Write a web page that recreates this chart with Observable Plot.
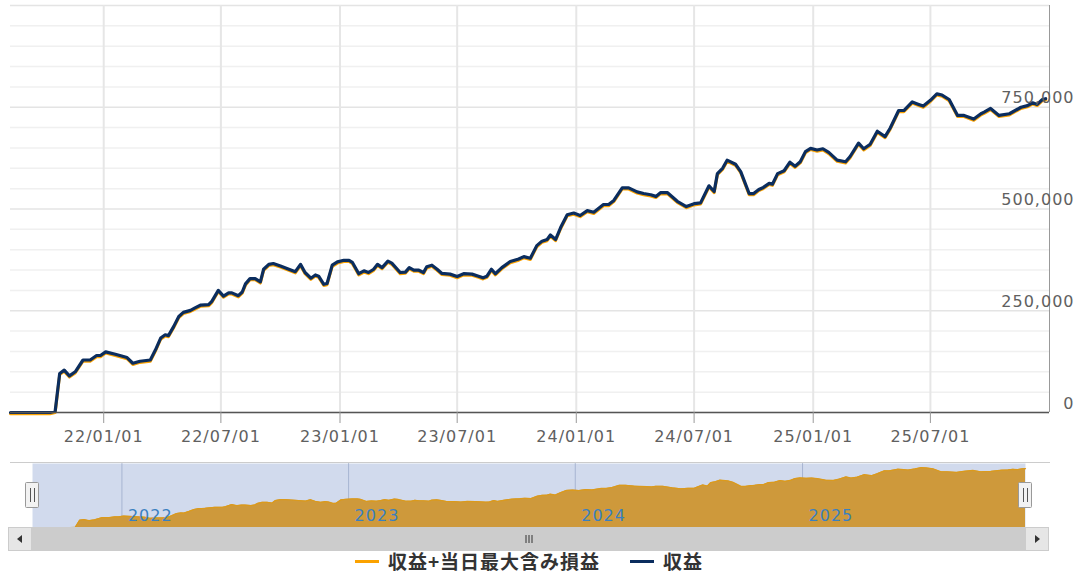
<!DOCTYPE html>
<html><head><meta charset="utf-8">
<script src="https://cdn.jsdelivr.net/npm/d3@7"></script>
<script src="https://cdn.jsdelivr.net/npm/@observablehq/plot@0.6"></script>
<style>
html,body{margin:0;padding:0;background:#fff;}
#chart svg{display:block;}
.legend{display:flex;justify-content:center;align-items:center;height:20px;width:1058px;
  font-family:"Noto Sans CJK JP";font-weight:bold;font-size:19px;letter-spacing:1px;color:#333;line-height:20px;}
.legend .item{display:flex;align-items:center;margin:0 15px;}
.legend .sym{display:inline-block;width:24px;height:3px;margin-right:9px;}
</style></head>
<body>
<div id="chart"></div>
<script>
// ---- data ----
const dates = [
"2021-08-10","2021-10-10","2021-10-18","2021-10-25","2021-11-01","2021-11-09","2021-11-18","2021-11-30","2021-12-11","2021-12-21","2021-12-27",
"2022-01-04","2022-01-19","2022-02-06","2022-02-15","2022-02-26","2022-03-14","2022-03-22","2022-03-30","2022-04-06","2022-04-11","2022-04-19","2022-04-27","2022-05-04","2022-05-15","2022-05-22","2022-05-31","2022-06-12","2022-06-17","2022-06-27","2022-07-05","2022-07-13","2022-07-18","2022-07-28","2022-08-03","2022-08-08","2022-08-15","2022-08-23","2022-08-31","2022-09-05","2022-09-13","2022-09-20","2022-10-01","2022-10-24","2022-11-01","2022-11-08","2022-11-17","2022-11-24","2022-11-29","2022-12-07","2022-12-12","2022-12-20","2022-12-28",
"2023-01-07","2023-01-15","2023-01-20","2023-01-30","2023-02-07","2023-02-14","2023-02-22","2023-02-28","2023-03-07","2023-03-16","2023-03-22","2023-04-04","2023-04-12","2023-04-18","2023-04-25","2023-05-02","2023-05-10","2023-05-15","2023-05-23","2023-05-31","2023-06-07","2023-06-20","2023-07-01","2023-07-11","2023-07-24","2023-08-03","2023-08-10","2023-08-16","2023-08-23","2023-08-29","2023-09-08","2023-09-21","2023-10-04","2023-10-12","2023-10-22","2023-11-01","2023-11-09","2023-11-17","2023-11-22","2023-11-30","2023-12-08","2023-12-18","2023-12-28",
"2024-01-07","2024-01-18","2024-01-28","2024-02-12","2024-02-20","2024-02-28","2024-03-12","2024-03-22","2024-04-04","2024-04-14","2024-04-25","2024-05-03","2024-05-10","2024-05-21","2024-06-05","2024-06-19","2024-07-01","2024-07-11","2024-07-24","2024-08-01","2024-08-06","2024-08-14","2024-08-21","2024-09-03","2024-09-11","2024-09-24","2024-10-01","2024-10-09","2024-10-16","2024-10-25","2024-10-30","2024-11-07","2024-11-17","2024-11-26","2024-12-04","2024-12-12","2024-12-20","2024-12-28",
"2025-01-07","2025-01-16","2025-01-25","2025-02-07","2025-02-20","2025-02-27","2025-03-12","2025-03-20","2025-03-30","2025-04-10","2025-04-22","2025-04-30","2025-05-13","2025-05-21","2025-06-03","2025-06-13","2025-06-20","2025-07-01","2025-07-11","2025-07-19","2025-07-30","2025-08-12","2025-08-22","2025-09-06","2025-09-17","2025-09-22","2025-10-02","2025-10-15","2025-10-31","2025-11-18","2025-11-28","2025-12-06","2025-12-13","2025-12-21","2025-12-26"
];
// 収益 (the 収益+当日最大含み損益 series coincides with it at this scale)
const profit = [
0,0,3000,96000,104000,90000,100000,129000,129000,140000,140000,
149000,143000,135000,121000,126000,129000,154000,183000,191000,189000,211000,236000,246000,251000,257000,264000,265000,273000,300000,286000,294000,294000,287000,296000,316000,329000,329000,321000,352000,364000,366000,360000,346000,364000,344000,330000,338000,335000,315000,317000,362000,370000,
374000,374000,369000,341000,348000,344000,352000,364000,356000,372000,367000,344000,345000,356000,350000,350000,344000,358000,362000,352000,342000,340000,334000,341000,340000,335000,331000,335000,352000,341000,356000,371000,377000,383000,379000,410000,421000,425000,436000,425000,455000,486000,490000,
484000,496000,492000,511000,511000,521000,552000,552000,542000,538000,535000,531000,540000,540000,519000,506000,513000,515000,557000,543000,587000,600000,620000,610000,592000,538000,538000,548000,553000,563000,561000,587000,594000,615000,605000,616000,641000,649000,
645000,648000,639000,620000,616000,629000,662000,648000,659000,691000,678000,699000,742000,742000,763000,757000,753000,767000,783000,780000,769000,730000,730000,721000,734000,738000,747000,730000,734000,750000,754000,761000,757000,769000,771000
];
const seriesNames = ["収益+当日最大含み損益", "収益"];
const seriesColors = ["#fba200", "#0b2d5e"];
const xRange = ["2021-08-10", "2026-01-01"];
const xTickDates = ["2022-01-01","2022-07-01","2023-01-01","2023-07-01","2024-01-01","2024-07-01","2025-01-01","2025-07-01"];
const yearStarts = ["2022-01-01","2023-01-01","2024-01-01","2025-01-01"];
const yTickValues = [0, 250000, 500000, 750000];
const yMax = 1000000;
const yMinorStep = 50000;

// ---- build ----
const D = s => new Date(s + "T00:00:00Z");
const data = dates.map((d, i) => ({date: D(d), value: profit[i]}));
const xDomain = xRange.map(D);
const navDomain = d3.extent(data, d => d.date);
const xTicks = xTickDates.map(D);
const years = yearStarts.map(D);
const gridAll = d3.range(0, yMax + 1, yMinorStep);
const gridMajor = gridAll.filter(v => v % 250000 === 0);
const gridMinor = gridAll.filter(v => v % 250000 !== 0);
const fontStyle = "font-family:'DejaVu Sans';font-size:16px;letter-spacing:1px;background:#fff;overflow:visible;";

const main = Plot.plot({
  width: 1082, height: 455,
  marginLeft: 10, marginRight: 33, marginTop: 5, marginBottom: 43,
  style: fontStyle,
  x: {type: "utc", domain: xDomain, label: null},
  y: {domain: [0, yMax], label: null},
  marks: [
    Plot.ruleY(gridMinor, {stroke: "#f0f0f0", strokeWidth: 1.5}),
    Plot.ruleY(gridMajor, {stroke: "#e4e4e4", strokeWidth: 1.5}),
    Plot.ruleX(xTicks, {stroke: "#e6e6e6", strokeWidth: 2}),
    Plot.ruleX([xDomain[1]], {stroke: "#999"}),
    Plot.line(data, {x: "date", y: "value", stroke: seriesColors[0], strokeWidth: 3, dy: 1.2}),
    Plot.line(data, {x: "date", y: "value", stroke: seriesColors[1], strokeWidth: 3.2}),
    Plot.ruleY([0], {stroke: "#555", strokeWidth: 1.5}),
    Plot.axisX(xTicks, {tickFormat: d3.utcFormat("%y/%m/%d"), tickSize: 11, tickPadding: 7, stroke: "#999", fill: "#606060", label: null}),
    Plot.axisY(yTickValues, {anchor: "right", tickSize: 0, tickPadding: 25, textAnchor: "end", dy: -9,
      tickFormat: d3.format(","), fill: "#606060", label: null})
  ]
});

const nav = Plot.plot({
  width: 1082, height: 96,
  marginLeft: 32, marginRight: 57, marginTop: 8, marginBottom: 24,
  style: fontStyle,
  x: {type: "utc", domain: navDomain, axis: null},
  y: {domain: [0, d3.max(profit) * 1.07], axis: null},
  marks: [
    Plot.ruleX(years, {stroke: "#c2c9d8"}),
    Plot.areaY(data, {x: "date", y: "value", fill: seriesColors[0]}),
    Plot.frame({fill: "rgb(102,133,194)", fillOpacity: 0.3, stroke: null}),
    Plot.lineY(data, {x: "date", y: "value", stroke: "#db9a1c", strokeWidth: 1.2}),
    Plot.text(years, {x: d => d, text: d => String(d.getUTCFullYear()), frameAnchor: "bottom",
      dy: -12, dx: 6, textAnchor: "start", lineAnchor: "middle", fill: "#3a80c0"})
  ]
});

// navigator chrome: outline, handles, scrollbar
{
  const [x0, x1] = nav.scale("x").range;
  const [m0, m1] = main.scale("x").range;
  const g = d3.select(nav).append("g");
  g.append("line").attr("x1", m0).attr("x2", m1 + 1).attr("y1", 7.5).attr("y2", 7.5).attr("stroke", "#ccc");
  // scrollbar
  const sy = 72, sh = 24, bw = 24;
  g.append("rect").attr("x", x0).attr("y", sy).attr("width", x1 - x0).attr("height", sh).attr("fill", "#cccccc");
  for (const [bx, dir] of [[x0 - bw, -1], [x1, 1]]) {
    g.append("rect").attr("x", bx + 0.5).attr("y", sy + 0.5).attr("width", bw - 1).attr("height", sh - 1)
      .attr("fill", "#e6e6e6").attr("stroke", "#ccc");
    const cx = bx + bw / 2, cy = sy + sh / 2;
    g.append("path").attr("d", dir < 0
        ? `M${cx - 3},${cy} L${cx + 2},${cy - 4} L${cx + 2},${cy + 4} Z`
        : `M${cx + 3},${cy} L${cx - 2},${cy - 4} L${cx - 2},${cy + 4} Z`).attr("fill", "#333");
  }
  const gx = (x0 + x1) / 2;
  for (const dx of [-3, 0, 3]) {
    g.append("line").attr("x1", gx + dx + 0.5).attr("x2", gx + dx + 0.5).attr("y1", sy + 8).attr("y2", sy + 16)
      .attr("stroke", "#333");
  }
  // handles
  for (const hx of [x0, x1]) {
    g.append("rect").attr("x", Math.round(hx) - 6.5).attr("y", 27.5).attr("width", 13).attr("height", 25)
      .attr("rx", 1).attr("fill", "#f2f2f2").attr("stroke", "#999");
    for (const dx of [-2, 2]) {
      g.append("line").attr("x1", Math.round(hx) + dx + 0.5).attr("x2", Math.round(hx) + dx + 0.5)
        .attr("y1", 33).attr("y2", 47).attr("stroke", "#555");
    }
  }
}

const chart = document.getElementById("chart");
chart.appendChild(main);
chart.appendChild(nav);

const legend = document.createElement("div");
legend.className = "legend";
seriesNames.forEach((name, i) => {
  const it = document.createElement("div");
  it.className = "item";
  const sym = document.createElement("span");
  sym.className = "sym";
  sym.style.background = seriesColors[i];
  it.appendChild(sym);
  it.appendChild(document.createTextNode(name));
  legend.appendChild(it);
});
chart.appendChild(legend);
</script>
</body></html>
